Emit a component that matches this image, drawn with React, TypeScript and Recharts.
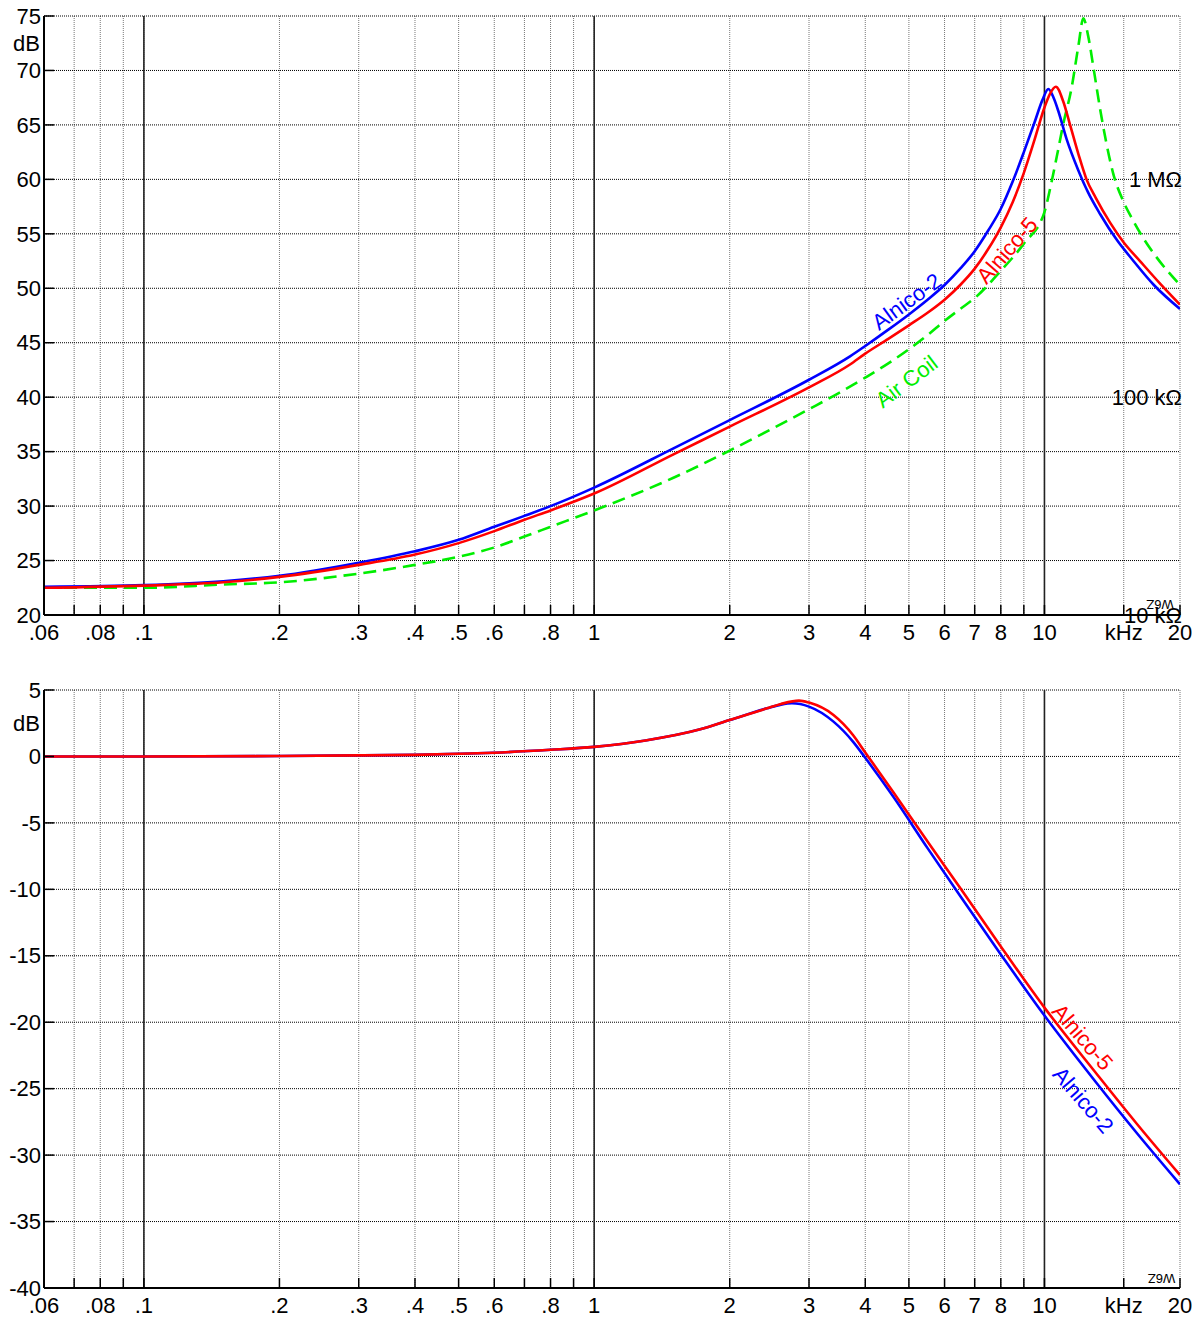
import { LineChart, Line, XAxis, YAxis, CartesianGrid, ReferenceLine, ReferenceDot } from "recharts"

const FONT = "'Liberation Sans', Arial, sans-serif"
const BLUE = "#0000ff"
const RED = "#ff0000"
const GREEN = "#00ee00"

// frequency axis (kHz, log)
const freqTicks = [0.06, 0.07, 0.08, 0.09, 0.1, 0.2, 0.3, 0.4, 0.5, 0.6, 0.7, 0.8, 0.9, 1, 2, 3, 4, 5, 6, 7, 8, 9, 10, 15, 20]
const freqLabels: Record<string, string> = {
  "0.06": ".06", "0.08": ".08", "0.1": ".1", "0.2": ".2", "0.3": ".3", "0.4": ".4", "0.5": ".5",
  "0.6": ".6", "0.8": ".8", "1": "1", "2": "2", "3": "3", "4": "4", "5": "5", "6": "6", "7": "7",
  "8": "8", "10": "10", "15": "kHz", "20": "20",
}
const decades = [0.1, 1, 10]

const levelTicks = [20, 25, 30, 35, 40, 45, 50, 55, 60, 65, 70, 75]
const responseTicks = [-40, -35, -30, -25, -20, -15, -10, -5, 0, 5]

// top panel: level in dB
const a2LevelF = [0.06, 0.1, 0.15, 0.2, 0.3, 0.4, 0.5, 0.6, 0.7, 0.8, 1, 1.5, 2, 3, 3.7, 4, 4.5, 5, 5.5, 6, 6.5, 7, 7.5, 8, 8.5, 9, 9.5, 9.9, 10.2, 10.5, 10.73, 11.2, 11.9, 12.5, 13.3, 14.5, 15.7, 17.5, 20]
const a2LevelV = [22.6, 22.75, 23.1, 23.6, 24.8, 25.85, 26.9, 28.1, 29.1, 30.0, 31.7, 35.3, 37.9, 41.6, 43.75, 44.7, 46.2, 47.6, 48.95, 50.3, 51.8, 53.4, 55.3, 57.3, 59.8, 62.5, 65.2, 67.3, 68.3, 67.4, 66.3, 63.7, 60.8, 58.8, 56.8, 54.4, 52.6, 50.3, 48.1]

const a5LevelF = [0.06, 0.1, 0.15, 0.2, 0.3, 0.4, 0.5, 0.6, 0.7, 0.8, 1, 1.5, 2, 3, 3.7, 4, 4.5, 5, 5.5, 6, 6.5, 7, 7.5, 8, 8.5, 9, 9.5, 10, 10.3, 10.6, 11.0, 11.4, 11.9, 12.4, 13.0, 14.0, 15.0, 16.3, 18, 20]
const a5LevelV = [22.5, 22.7, 23.0, 23.5, 24.6, 25.55, 26.6, 27.7, 28.75, 29.6, 31.15, 34.75, 37.3, 40.9, 43.0, 44.0, 45.35, 46.6, 47.75, 48.95, 50.3, 51.8, 53.6, 55.6, 57.9, 60.6, 63.6, 66.6, 67.9, 68.5, 67.2, 65.0, 62.3, 60.0, 58.3, 56.0, 54.2, 52.5, 50.5, 48.5]

const airLevelF = [0.06, 0.1, 0.15, 0.2, 0.3, 0.4, 0.5, 0.6, 0.7, 0.8, 1, 1.5, 2, 3, 3.5, 4, 4.5, 5, 5.5, 6, 6.5, 7, 8, 9, 10, 10.3, 10.64, 11.0, 11.5, 11.9, 12.2, 12.5, 12.9, 13.3, 13.7, 14.2, 15.0, 15.7, 16.7, 17.7, 20]
const airLevelV = [22.5, 22.5, 22.8, 23.0, 23.8, 24.6, 25.35, 26.2, 27.2, 28.1, 29.6, 32.6, 35.1, 38.9, 40.4, 41.8, 43.1, 44.4, 45.7, 47.0, 48.1, 49.1, 51.6, 54.1, 57.0, 59.2, 62.0, 65.0, 68.5, 72.3, 74.8, 73.2, 69.8, 66.4, 63.5, 60.6, 57.9, 56.3, 54.4, 52.9, 50.3]

// bottom panel: relative response in dB
const a2RespF = [0.06, 0.1, 0.2, 0.3, 0.4, 0.5, 0.6, 0.8, 1, 1.3, 1.72, 2, 2.42, 2.6, 2.75, 3, 3.4, 3.76, 4, 4.61, 5.5, 6.5, 8, 10, 13, 16, 20]
const a2RespV = [0, 0, 0.03, 0.08, 0.12, 0.2, 0.28, 0.5, 0.72, 1.2, 2.04, 2.74, 3.62, 3.9, 4.0, 3.75, 2.62, 1.1, -0.1, -3.0, -6.9, -10.5, -14.9, -19.5, -24.5, -28.3, -32.2]

const a5RespF = [0.06, 0.1, 0.2, 0.3, 0.4, 0.5, 0.6, 0.8, 1, 1.3, 1.72, 2, 2.42, 2.6, 2.85, 3, 3.4, 3.76, 4, 4.61, 5.5, 6.5, 8, 10, 13, 16, 20]
const a5RespV = [0, 0, 0.03, 0.08, 0.12, 0.2, 0.28, 0.5, 0.72, 1.2, 2.04, 2.74, 3.62, 3.95, 4.2, 4.05, 3.12, 1.6, 0.3, -2.65, -6.4, -9.9, -14.3, -18.9, -23.8, -27.6, -31.5]

const toPts = (f: number[], v: number[]) => f.map((x, i) => ({ f: x, v: v[i] }))

type Note = { f: number; v: number; text: string; color: string; angle: number; anchor?: string; size?: number }

const topNotes: Note[] = [
  { f: 4.94, v: 48.8, text: "Alnico-2", color: BLUE, angle: -36 },
  { f: 4.94, v: 41.45, text: "Air Coil", color: GREEN, angle: -37 },
  { f: 8.25, v: 53.5, text: "Alnico-5", color: RED, angle: -49 },
  { f: 20, v: 60, text: "1 MΩ", color: "#000", angle: 0, anchor: "end" },
  { f: 20, v: 40, text: "100 kΩ", color: "#000", angle: 0, anchor: "end" },
  { f: 20, v: 20, text: "10 kΩ", color: "#000", angle: 0, anchor: "end" },
  { f: 0.06, v: 72.5, text: "dB", color: "#000", angle: 0, anchor: "end" },
  { f: 18.05, v: 20.96, text: "W6Z", color: "#000", angle: 180, size: 13 },
]

const bottomNotes: Note[] = [
  { f: 12.16, v: -21.1, text: "Alnico-5", color: RED, angle: 49 },
  { f: 12.2, v: -25.85, text: "Alnico-2", color: BLUE, angle: 49 },
  { f: 0.06, v: 2.5, text: "dB", color: "#000", angle: 0, anchor: "end" },
  { f: 18.2, v: -39.3, text: "W6Z", color: "#000", angle: 180, size: 13 },
]

const noteLabel = (n: Note) => (props: any) => {
  const vb = props.viewBox || {}
  const cx = vb.x + (vb.width || 0) / 2
  const cy = vb.y + (vb.height || 0) / 2
  const x = n.anchor === "end" ? cx + (n.f >= 20 ? 2 : -4) : cx
  return (
    <text
      x={x}
      y={cy}
      dy="0.35em"
      textAnchor={n.anchor || "middle"}
      fontSize={n.size || 22}
      fontFamily={FONT}
      fill={n.color}
      transform={n.angle ? `rotate(${n.angle} ${cx} ${cy})` : undefined}
    >
      {n.text}
    </text>
  )
}

function BottomTick({ x, y, payload }: any) {
  const label = freqLabels[String(payload.value)]
  return (
    <g>
      <line x1={x} x2={x} y1={y} y2={y - 10} stroke="#000" strokeWidth={1.5} />
      {label && (
        <text x={x} y={y + 17} dy="0.35em" textAnchor="middle" fontSize={22} fontFamily={FONT} fill="#000">
          {label}
        </text>
      )}
    </g>
  )
}

function TopTick({ x, y }: any) {
  return <line x1={x} x2={x} y1={y} y2={y + 10} stroke="#000" strokeWidth={1.5} />
}

function LeftTick({ x, y, payload }: any) {
  return (
    <g>
      <line x1={x} x2={x + 10} y1={y} y2={y} stroke="#000" strokeWidth={1.5} />
      <text x={x - 3} y={y} dy="0.35em" textAnchor="end" fontSize={22} fontFamily={FONT} fill="#000">
        {payload.value}
      </text>
    </g>
  )
}

function RightTick({ x, y }: any) {
  return <line x1={x} x2={x - 10} y1={y} y2={y} stroke="#000" strokeWidth={1.5} />
}

type PanelProps = {
  top: number
  height: number
  xHeight: number
  domain: [number, number]
  yTicks: number[]
  notes: Note[]
  series: { data: { f: number; v: number }[]; color: string; dash?: string }[]
}

function Panel({ top, height, xHeight, domain, yTicks, notes, series }: PanelProps) {
  const axisLine = { stroke: "#000", strokeWidth: 2 }
  return (
    <div style={{ position: "absolute", left: 0, top }}>
      <LineChart width={1198} height={height} margin={{ top: 16, right: 18, bottom: 0, left: 0 }}>
        <CartesianGrid horizontal={false} stroke="#777" strokeDasharray="1 1" />
        <CartesianGrid vertical={false} stroke="#000" strokeDasharray="1 1" />
        <XAxis
          dataKey="f"
          type="number"
          scale="log"
          domain={[0.06, 20]}
          allowDataOverflow
          ticks={freqTicks}
          interval={0}
          height={xHeight}
          tickSize={0}
          tickMargin={0}
          tickLine={false}
          axisLine={axisLine}
          tick={<BottomTick />}
        />
        <XAxis
          xAxisId="top"
          orientation="top"
          dataKey="f"
          type="number"
          scale="log"
          domain={[0.06, 20]}
          allowDataOverflow
          ticks={freqTicks}
          interval={0}
          height={0}
          tickSize={0}
          tickMargin={0}
          tickLine={false}
          axisLine={axisLine}
          tick={<TopTick />}
        />
        <YAxis
          type="number"
          domain={domain}
          allowDataOverflow
          ticks={yTicks}
          interval={0}
          width={44}
          tickSize={0}
          tickMargin={0}
          tickLine={false}
          axisLine={axisLine}
          tick={<LeftTick />}
        />
        <YAxis
          yAxisId="right"
          orientation="right"
          type="number"
          domain={domain}
          allowDataOverflow
          ticks={yTicks}
          interval={0}
          width={0}
          tickSize={0}
          tickMargin={0}
          tickLine={false}
          axisLine={axisLine}
          tick={<RightTick />}
        />
        {decades.map((d) => (
          <ReferenceLine key={d} x={d} stroke="#222" strokeWidth={1.6} />
        ))}
        {series.map((s, i) => (
          <Line
            key={i}
            data={s.data}
            dataKey="v"
            type="monotone"
            stroke={s.color}
            strokeWidth={2.6}
            strokeDasharray={s.dash}
            dot={false}
            activeDot={false}
            isAnimationActive={false}
          />
        ))}
        {notes.map((n, i) => (
          <ReferenceDot
            key={"n" + i}
            x={n.f}
            y={n.v}
            r={0}
            fill="none"
            stroke="none"
            ifOverflow="visible"
            label={noteLabel(n)}
          />
        ))}
      </LineChart>
    </div>
  )
}

export default function App() {
  return (
    <div style={{ position: "absolute", left: 0, top: 0, width: 1198, height: 1317, background: "#fff" }}>
      <Panel
        top={0}
        height={660}
        xHeight={45}
        domain={[20, 75]}
        yTicks={levelTicks}
        notes={topNotes}
        series={[
          { data: toPts(airLevelF, airLevelV), color: GREEN, dash: "13 7" },
          { data: toPts(a2LevelF, a2LevelV), color: BLUE },
          { data: toPts(a5LevelF, a5LevelV), color: RED },
        ]}
      />
      <Panel
        top={674}
        height={643}
        xHeight={29}
        domain={[-40, 5]}
        yTicks={responseTicks}
        notes={bottomNotes}
        series={[
          { data: toPts(a2RespF, a2RespV), color: BLUE },
          { data: toPts(a5RespF, a5RespV), color: RED },
        ]}
      />
    </div>
  )
}
